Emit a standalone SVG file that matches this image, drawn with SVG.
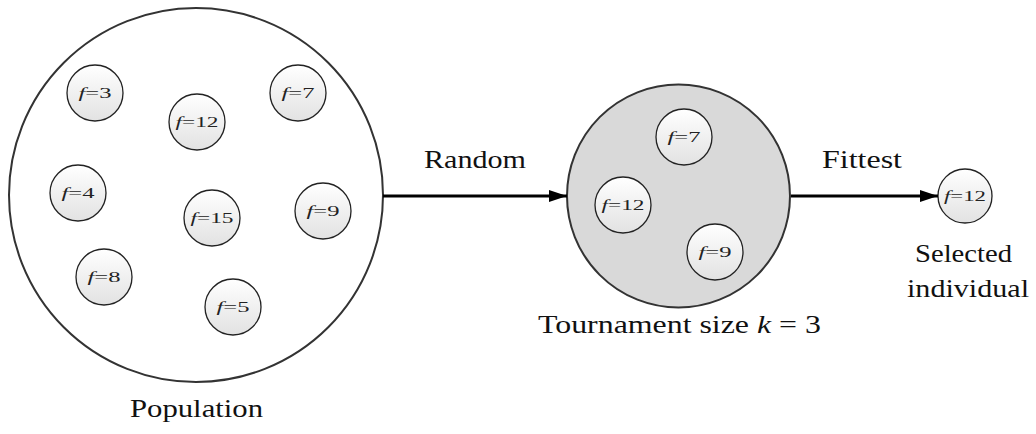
<svg xmlns="http://www.w3.org/2000/svg" width="1036" height="434" viewBox="0 0 1036 434">
<style>
.big{fill:none;stroke:#333;stroke-width:2}
.ind{stroke:#222;stroke-width:1.3;fill:url(#g)}
.lab{font-family:'Liberation Serif','DejaVu Serif',serif;font-size:15px;fill:#222;text-anchor:middle}
.lab tspan.f{font-style:italic}
.txt{font-family:'Liberation Serif','DejaVu Serif',serif;font-size:25px;fill:#111;text-anchor:middle}
.arr{stroke:#000;stroke-width:3.2;fill:none}
</style>
<defs>
<linearGradient id="g" x1="0" y1="0" x2="0" y2="1">
<stop offset="0" stop-color="#ffffff"/>
<stop offset="1" stop-color="#e2e2e2"/>
</linearGradient>
<marker id="ah" viewBox="0 0 18 12" refX="18" refY="6" markerWidth="18" markerHeight="12" orient="auto" markerUnits="userSpaceOnUse">
<path d="M0,0 L18,6 L0,12 z" fill="#000"/>
</marker>
</defs>
<rect width="1036" height="434" fill="#fff"/>
<g id="population">
<circle class="big" cx="196" cy="195" r="187"/>
<text class="txt" x="196.5" y="417" textLength="133" lengthAdjust="spacingAndGlyphs">Population</text>
</g>
<g id="p3"><circle class="ind" cx="95" cy="93" r="28"/><text class="lab" x="95" y="98" textLength="33" lengthAdjust="spacingAndGlyphs"><tspan class="f">f</tspan>=3</text></g>
<g id="p12"><circle class="ind" cx="197" cy="122" r="28"/><text class="lab" x="197" y="127" textLength="43" lengthAdjust="spacingAndGlyphs"><tspan class="f">f</tspan>=12</text></g>
<g id="p7"><circle class="ind" cx="298" cy="93" r="28"/><text class="lab" x="298" y="98" textLength="33" lengthAdjust="spacingAndGlyphs"><tspan class="f">f</tspan>=7</text></g>
<g id="p4"><circle class="ind" cx="78" cy="193" r="28"/><text class="lab" x="78" y="198" textLength="33" lengthAdjust="spacingAndGlyphs"><tspan class="f">f</tspan>=4</text></g>
<g id="p15"><circle class="ind" cx="212" cy="218" r="28"/><text class="lab" x="212" y="223" textLength="43" lengthAdjust="spacingAndGlyphs"><tspan class="f">f</tspan>=15</text></g>
<g id="p9"><circle class="ind" cx="323" cy="211" r="28"/><text class="lab" x="323" y="216" textLength="33" lengthAdjust="spacingAndGlyphs"><tspan class="f">f</tspan>=9</text></g>
<g id="p8"><circle class="ind" cx="104" cy="277" r="28"/><text class="lab" x="104" y="282" textLength="33" lengthAdjust="spacingAndGlyphs"><tspan class="f">f</tspan>=8</text></g>
<g id="p5"><circle class="ind" cx="233" cy="307" r="28"/><text class="lab" x="233" y="312" textLength="33" lengthAdjust="spacingAndGlyphs"><tspan class="f">f</tspan>=5</text></g>
<g id="tournament">
<circle cx="678.5" cy="196" r="111.5" fill="#d9d9d9" stroke="#333" stroke-width="2"/>
<text class="txt" x="679.5" y="333" textLength="283" lengthAdjust="spacingAndGlyphs">Tournament size <tspan font-style="italic">k</tspan> = 3</text>
</g>
<g id="t7"><circle class="ind" cx="684" cy="137" r="28"/><text class="lab" x="684" y="142" textLength="33" lengthAdjust="spacingAndGlyphs"><tspan class="f">f</tspan>=7</text></g>
<g id="t12"><circle class="ind" cx="623" cy="205" r="28"/><text class="lab" x="623" y="210" textLength="43" lengthAdjust="spacingAndGlyphs"><tspan class="f">f</tspan>=12</text></g>
<g id="t9"><circle class="ind" cx="715" cy="252" r="28"/><text class="lab" x="715" y="257" textLength="33" lengthAdjust="spacingAndGlyphs"><tspan class="f">f</tspan>=9</text></g>
<g id="selected">
<circle class="ind" cx="965" cy="196" r="27"/><text class="lab" x="965" y="201" textLength="42" lengthAdjust="spacingAndGlyphs"><tspan class="f">f</tspan>=12</text>
<text class="txt" x="963.5" y="262" textLength="97" lengthAdjust="spacingAndGlyphs">Selected</text>
<text class="txt" x="968" y="297" textLength="122" lengthAdjust="spacingAndGlyphs">individual</text>
</g>
<g id="connectors">
<line class="arr" x1="383" y1="196" x2="567" y2="196" marker-end="url(#ah)"/>
<text class="txt" x="475" y="168" textLength="102" lengthAdjust="spacingAndGlyphs">Random</text>
<line class="arr" x1="791" y1="196" x2="938" y2="196" marker-end="url(#ah)"/>
<text class="txt" x="862" y="168" textLength="80" lengthAdjust="spacingAndGlyphs">Fittest</text>
</g>
</svg>
